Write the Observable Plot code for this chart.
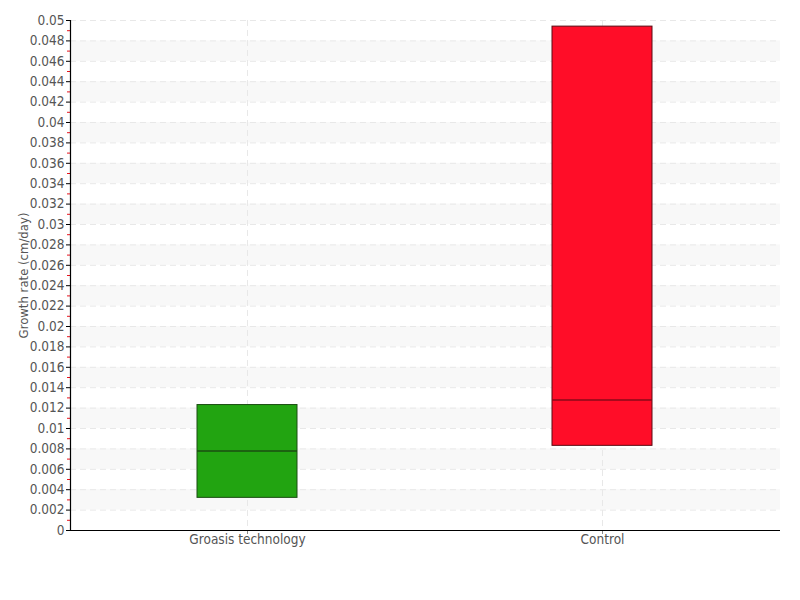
<!DOCTYPE html>
<html>
<head>
<meta charset="utf-8">
<script src="https://cdn.jsdelivr.net/npm/d3@7"></script>
<script src="https://cdn.jsdelivr.net/npm/@observablehq/plot@0.6"></script>
<style>
  html, body { margin: 0; padding: 0; background: #fff; }
  svg { font-family: "DejaVu Sans Condensed", "DejaVu Sans", sans-serif; font-stretch: condensed; }
</style>
</head>
<body>
<div id="chart"></div>
<script>
const categories = ["Groasis technology", "Control"];
const q1 = [0.0032, 0.0083];
const median = [0.0078, 0.0128];
const q3 = [0.0123, 0.0494];
const fills = ["#22a411", "#ff0d28"];
const strokes = ["#1b4d12", "#5a0a12"];
const medianColors = ["#1b4d12", "#8a0a18"];

const majorTicks = d3.range(0, 26).map(i => +(i * 0.002).toFixed(3));
const minorTicks = d3.range(0, 25).map(i => +(0.001 + i * 0.002).toFixed(3));
const bandStarts = d3.range(0, 12).map(i => +(0.002 + i * 0.004).toFixed(3));

const boxes = categories.map((c, i) => ({cat: c, q1: q1[i], median: median[i], q3: q3[i], fill: fills[i], stroke: strokes[i], mc: medianColors[i]}));
const bands = bandStarts.map(s => ({y1: s, y2: +(s + 0.002).toFixed(3)}));

const chart = Plot.plot({
  width: 800,
  height: 600,
  marginLeft: 70,
  marginRight: 20,
  marginTop: 20,
  marginBottom: 70,
  x: {domain: categories, paddingInner: 0.7183, paddingOuter: 0.359, axis: null},
  y: {domain: [0, 0.05], axis: null},
  marks: [
    Plot.rect(bands, {y1: "y1", y2: "y2", fill: "#f8f8f8"}),
    Plot.ruleY(majorTicks.filter(d => d > 0), {stroke: "#e8e8e8", strokeDasharray: "6,4"}),
    Plot.gridX({stroke: "#e8e8e8", strokeOpacity: 1, strokeDasharray: "6,4"}),
    Plot.barY(boxes, {x: "cat", y1: "q1", y2: "q3", fill: "fill", stroke: "stroke", strokeWidth: 1}),
    Plot.tickY(boxes, {x: "cat", y: "median", stroke: "mc", strokeWidth: 1.5}),
    Plot.axisY({ticks: minorTicks, tickFormat: () => "", tickSize: 3, stroke: "#e8141e"}),
    Plot.axisY({ticks: majorTicks, tickFormat: d => String(d), tickSize: 4, tickPadding: 2, stroke: "#000", fill: "#555", fontSize: 13.5, label: null}),
    Plot.axisX({tickSize: 3, stroke: "#888", fill: "#555", fontSize: 13.5, tickPadding: 0, dy: 1, label: null}),
    Plot.ruleY([0], {stroke: "#000", strokeWidth: 1.2}),
    Plot.frame({anchor: "left", stroke: "#000", strokeWidth: 1.2}),
    Plot.text(["Growth rate (cm/day)"], {frameAnchor: "left", textAnchor: "middle", dx: -47, rotate: -90, fill: "#555", fontSize: 13})
  ]
});
document.getElementById("chart").appendChild(chart);
</script>
</body>
</html>
